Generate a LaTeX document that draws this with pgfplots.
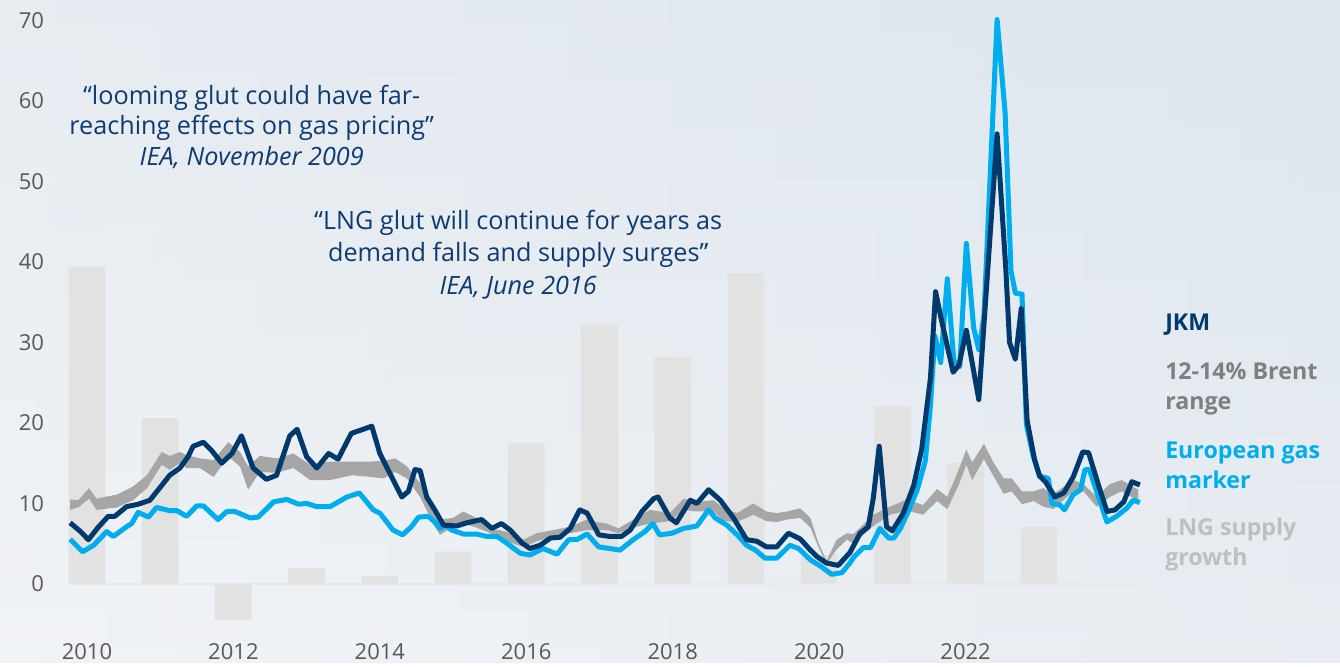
\documentclass[border=0pt]{standalone}
\usepackage{fontspec}
\setmainfont{Open Sans}
\usepackage{pgfplots}
\pgfplotsset{compat=1.18}

\definecolor{jkm}{HTML}{003A6C}
\definecolor{eur}{HTML}{00AEEF}
\definecolor{brent}{HTML}{A6A6A6}
\definecolor{brenttxt}{HTML}{7F7F7F}
\definecolor{lngbar}{HTML}{E2E2E2}
\definecolor{lngtxt}{HTML}{BFBFBF}
\definecolor{quote}{HTML}{0E3B70}
\definecolor{tick}{HTML}{595959}
\definecolor{bgL}{HTML}{F1F3F6}
\definecolor{bgR}{HTML}{DEE6EE}

\begin{document}
\begin{tikzpicture}
% background, axis box lower left sits at (0,0)
\shade[left color=bgL, right color=bgR] (-32.5pt,-13.35pt) rectangle (637.5pt,318.15pt);
\shade[top color=bgR, bottom color=bgL, fill opacity=0.5] (-32.5pt,-13.35pt) rectangle (637.5pt,318.15pt);

\begin{axis}[
    width=540pt, height=312pt, scale only axis,
    xmin=2009.7, xmax=2024.45, ymin=-6.5, ymax=71,
    axis line style={draw=none}, tick style={draw=none},
    xtick={2010,2012,...,2022}, ytick={0,10,...,70},
    tick label style={font=\fontsize{11}{13}\selectfont, text=tick},
    /pgf/number format/assume math mode=true,
    xticklabel style={/pgf/number format/1000 sep={}},
    yticklabel style={xshift=-7pt},
    clip=false,
]

% LNG supply growth
\addplot[ybar, bar width=0.5, fill=lngbar, draw=none] coordinates {
    (2010,39.4) (2011,20.6) (2012,-4.5) (2013,2.0) (2014,1.0) (2015,4.0) (2016,17.5)
    (2017,32.2) (2018,28.2) (2019,38.6) (2020,3.6) (2021,22.1) (2022,15.0) (2023,7.1)
};

% zero line
\addplot[black!9, line width=1.2pt] coordinates {(2009.74,0) (2024.38,0)};

% 12-14% Brent range: upper edge forward, lower edge back
\addplot[fill=brent, draw=none] coordinates {
    (2009.77,10.5) (2009.88,10.4) (2010.03,11.9) (2010.13,10.6) (2010.41,11.1) (2010.63,12.1)
    (2010.82,13.5) (2011.02,16.4) (2011.13,15.9) (2011.27,16.4) (2011.36,16.0) (2011.54,15.6)
    (2011.73,15.4) (2011.93,17.6) (2012.09,16.4) (2012.20,14.6) (2012.36,15.9) (2012.59,15.6)
    (2012.82,16.2) (2013.05,14.8) (2013.32,15.2) (2013.62,15.2) (2013.87,15.2) (2014.05,15.3)
    (2014.21,15.6) (2014.37,14.6) (2014.55,12.5) (2014.73,9.6) (2014.82,8.0) (2015.00,8.2)
    (2015.14,9.0) (2015.32,8.2) (2015.51,6.9) (2015.73,6.5) (2015.96,5.5) (2016.14,6.3)
    (2016.37,6.7) (2016.60,7.1) (2016.83,8.0) (2016.96,7.7) (2017.10,7.5) (2017.26,6.9)
    (2017.46,8.0) (2017.69,9.2) (2017.96,8.8) (2018.15,10.6) (2018.33,10.2) (2018.56,10.4)
    (2018.69,9.4) (2018.88,8.8) (2019.10,10.0) (2019.28,9.0) (2019.42,8.8) (2019.56,9.0)
    (2019.74,9.4) (2019.88,8.2) (2019.99,5.1) (2020.10,2.9) (2020.24,5.5) (2020.38,6.3)
    (2020.47,6.2) (2020.74,8.6) (2020.97,9.6) (2021.20,10.5) (2021.42,9.8) (2021.61,11.8)
    (2021.75,10.8) (2021.91,14.3) (2022.01,16.7) (2022.09,15.1) (2022.25,17.4) (2022.38,15.1)
    (2022.52,13.1) (2022.63,13.1) (2022.77,11.5) (2022.93,11.5) (2023.06,11.9) (2023.20,11.2)
    (2023.47,12.9) (2023.61,12.4) (2023.79,10.8) (2023.97,12.4) (2024.13,12.9) (2024.36,11.7)
    (2024.36,10.3) (2024.13,11.5) (2023.97,10.8) (2023.79,9.6) (2023.61,11.5) (2023.47,11.5)
    (2023.20,9.3) (2023.06,9.6) (2022.93,10.3) (2022.77,9.9) (2022.63,11.5) (2022.52,11.2)
    (2022.38,13.4) (2022.25,15.5) (2022.09,12.9) (2022.01,14.8) (2021.91,12.4) (2021.75,9.3)
    (2021.61,10.3) (2021.42,8.6) (2021.20,9.1) (2020.97,8.6) (2020.74,7.2) (2020.47,5.0)
    (2020.38,5.5) (2020.24,4.3) (2020.10,2.5) (2019.99,4.6) (2019.88,7.0) (2019.74,8.2)
    (2019.56,8.0) (2019.42,7.7) (2019.28,7.8) (2019.10,8.6) (2018.88,7.7) (2018.69,7.8)
    (2018.56,9.0) (2018.33,9.0) (2018.15,9.2) (2017.96,7.8) (2017.69,7.5) (2017.46,7.0)
    (2017.26,6.3) (2017.10,6.7) (2016.96,6.7) (2016.83,6.7) (2016.60,6.3) (2016.37,5.9)
    (2016.14,5.3) (2015.96,4.6) (2015.73,5.3) (2015.51,6.3) (2015.32,7.0) (2015.14,7.5)
    (2015.00,7.1) (2014.82,6.1) (2014.73,7.5) (2014.55,10.8) (2014.37,13.1) (2014.21,13.9)
    (2014.05,13.1) (2013.87,13.3) (2013.62,13.5) (2013.32,12.9) (2013.05,12.9) (2012.82,14.4)
    (2012.59,13.8) (2012.36,13.9) (2012.20,11.7) (2012.09,14.6) (2011.93,15.8) (2011.73,13.3)
    (2011.54,14.4) (2011.36,14.4) (2011.27,15.0) (2011.13,14.2) (2011.02,14.8) (2010.82,11.9)
    (2010.63,10.4) (2010.41,9.5) (2010.13,9.2) (2010.03,10.6) (2009.88,9.5) (2009.77,9.2)
};

% European gas marker
\addplot[eur, line width=2.5pt, line join=round] coordinates {
    (2009.77,5.55) (2009.94,4.0) (2010.09,4.8) (2010.27,6.5) (2010.36,5.9) (2010.54,7.1)
    (2010.61,7.5) (2010.70,8.9) (2010.84,8.3) (2010.95,9.5) (2011.13,9.1) (2011.23,9.1)
    (2011.36,8.4) (2011.50,9.7) (2011.59,9.7) (2011.79,8.0) (2011.91,9.0) (2012.02,9.0)
    (2012.23,8.2) (2012.34,8.3) (2012.55,10.2) (2012.73,10.5) (2012.89,9.9) (2013.00,10.0)
    (2013.14,9.6) (2013.32,9.6) (2013.55,10.8) (2013.72,11.3) (2013.91,9.2) (2014.00,8.8)
    (2014.18,6.7) (2014.31,6.1) (2014.43,7.1) (2014.53,8.3) (2014.66,8.4) (2014.75,7.7)
    (2014.82,6.9) (2014.89,7.3) (2014.98,6.7) (2015.14,6.2) (2015.32,6.2) (2015.46,5.9)
    (2015.60,5.9) (2015.73,5.1) (2015.92,3.8) (2016.05,3.6) (2016.23,4.4) (2016.42,3.7)
    (2016.58,5.5) (2016.69,5.5) (2016.83,6.2) (2016.99,4.6) (2017.14,4.4) (2017.28,4.2)
    (2017.46,5.5) (2017.62,6.5) (2017.73,7.5) (2017.82,6.1) (2017.99,6.3) (2018.15,6.9)
    (2018.33,7.2) (2018.49,9.2) (2018.58,8.2) (2018.74,7.3) (2018.88,6.1) (2019.01,4.8)
    (2019.13,4.2) (2019.26,3.2) (2019.42,3.2) (2019.60,4.8) (2019.72,4.4) (2019.88,3.0)
    (2020.02,2.2) (2020.17,1.2) (2020.31,1.4) (2020.42,2.6) (2020.47,3.3) (2020.60,4.5)
    (2020.70,4.5) (2020.83,6.9) (2020.95,5.7) (2021.02,5.7) (2021.11,6.9) (2021.22,9.1)
    (2021.34,11.7) (2021.45,15.3) (2021.52,22.2) (2021.58,30.8) (2021.66,27.5) (2021.75,37.9)
    (2021.84,27.7) (2021.92,27.0) (2022.01,42.3) (2022.11,31.8) (2022.18,29.1) (2022.25,33.2)
    (2022.43,70.1) (2022.54,58.5) (2022.62,38.9) (2022.68,36.1) (2022.77,36.0) (2022.83,19.8)
    (2022.92,16.0) (2023.01,13.4) (2023.13,13.1) (2023.18,10.0) (2023.29,9.8) (2023.35,9.2)
    (2023.47,11.1) (2023.57,11.7) (2023.63,14.2) (2023.69,14.2) (2023.93,7.7) (2024.06,8.4)
    (2024.20,9.4) (2024.29,10.4) (2024.38,10.1)
};

% JKM
\addplot[jkm, line width=2.5pt, line join=round] coordinates {
    (2009.77,7.6) (2009.90,6.6) (2010.02,5.5) (2010.15,7.0) (2010.29,8.4) (2010.38,8.4)
    (2010.54,9.6) (2010.70,9.9) (2010.86,10.4) (2011.00,12.0) (2011.13,13.5) (2011.27,14.4)
    (2011.38,15.8) (2011.45,17.1) (2011.59,17.6) (2011.70,16.6) (2011.84,15.0) (2011.98,16.2)
    (2012.11,18.4) (2012.27,14.4) (2012.45,13.0) (2012.59,13.5) (2012.77,18.4) (2012.87,19.2)
    (2013.00,15.8) (2013.14,14.4) (2013.30,16.2) (2013.43,15.5) (2013.61,18.7) (2013.77,19.2)
    (2013.89,19.6) (2014.00,16.2) (2014.30,10.8) (2014.39,11.5) (2014.48,14.2) (2014.55,14.1)
    (2014.64,10.8) (2014.75,9.2) (2014.87,7.3) (2015.05,7.2) (2015.19,7.6) (2015.39,8.0)
    (2015.53,6.9) (2015.66,7.5) (2015.78,6.7) (2015.94,5.1) (2016.05,4.4) (2016.19,4.8)
    (2016.33,5.7) (2016.46,5.8) (2016.60,6.9) (2016.73,9.2) (2016.83,8.8) (2016.99,6.1)
    (2017.14,5.9) (2017.30,5.9) (2017.42,6.7) (2017.58,9.0) (2017.74,10.6) (2017.80,10.8)
    (2017.96,8.2) (2018.05,7.6) (2018.24,10.4) (2018.33,10.0) (2018.49,11.7) (2018.65,10.4)
    (2018.83,8.2) (2019.01,5.5) (2019.15,5.3) (2019.28,4.6) (2019.42,4.6) (2019.58,6.3)
    (2019.74,5.6) (2019.88,4.2) (2019.97,3.4) (2020.10,2.6) (2020.26,2.3) (2020.42,3.9)
    (2020.56,6.3) (2020.67,7.1) (2020.74,10.7) (2020.82,17.1) (2020.92,7.1) (2021.00,6.6)
    (2021.15,8.8) (2021.29,12.2) (2021.40,16.7) (2021.52,25.6) (2021.59,36.3) (2021.66,33.2)
    (2021.83,26.3) (2021.91,27.2) (2022.01,31.5) (2022.18,22.9) (2022.43,55.9) (2022.55,39.0)
    (2022.60,30.0) (2022.68,27.9) (2022.76,34.2) (2022.84,20.3) (2022.94,15.5) (2023.01,13.4)
    (2023.09,12.7) (2023.22,10.8) (2023.34,11.3) (2023.47,13.3) (2023.60,16.4) (2023.68,16.3)
    (2023.82,12.1) (2023.93,9.0) (2024.04,9.2) (2024.16,10.2) (2024.27,12.7) (2024.38,12.3)
};

% quotes
\node[align=center, text=quote, font=\fontsize{12.6}{15.25}\selectfont]
    at (axis cs:2012.25,56.8) {“looming glut could have far-\\reaching effects on gas pricing”\\\textit{IEA, November 2009}};
\node[align=center, text=quote, font=\fontsize{12.6}{16.25}\selectfont]
    at (axis cs:2015.89,40.9) {“LNG glut will continue for years as\\demand falls and supply surges”\\\textit{IEA, June 2016}};

% series labels
\node[anchor=west, text=jkm, font=\bfseries\fontsize{11.6}{15}\selectfont]
    at (axis cs:2024.63,32.2) {JKM};
\node[anchor=west, align=left, text=brenttxt, font=\bfseries\fontsize{11.6}{15}\selectfont]
    at (axis cs:2024.63,24.25) {12-14\% Brent\\range};
\node[anchor=west, align=left, text=eur, font=\bfseries\fontsize{11.6}{15}\selectfont]
    at (axis cs:2024.63,14.7) {European gas\\marker};
\node[anchor=west, align=left, text=lngtxt, font=\bfseries\fontsize{11.6}{15}\selectfont]
    at (axis cs:2024.63,4.9) {LNG supply\\growth};
\end{axis}
\end{tikzpicture}
\end{document}
